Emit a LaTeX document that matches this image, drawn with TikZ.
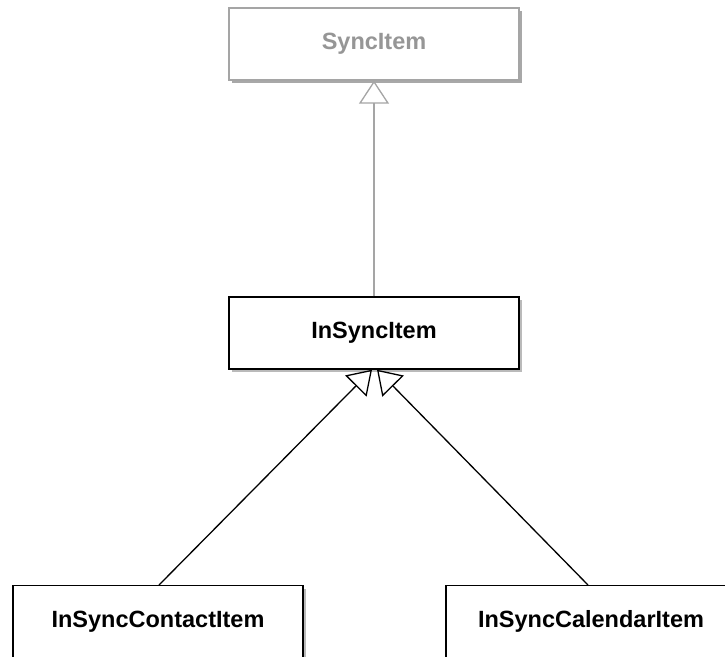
\documentclass[tikz,border=0pt]{standalone}
\usepackage{fontspec}
\setmainfont{Liberation Sans}
\usetikzlibrary{arrows.meta,shadows}
\definecolor{faded}{RGB}{165,165,165}
\definecolor{fadedtext}{RGB}{150,150,150}
\tikzset{
  classbox/.style={draw, line width=1.4pt, fill=white, rectangle,
    minimum width=290pt, minimum height=72pt, inner sep=0pt,
    font=\fontsize{23.5}{28}\selectfont\bfseries,
    drop shadow={shadow xshift=3pt, shadow yshift=-3pt, opacity=0.45, fill=black!60}},
  ghostbox/.style={classbox, draw=faded, text=fadedtext,
    drop shadow={shadow xshift=3pt, shadow yshift=-3pt, opacity=0.3, fill=black!50}},
  tallbox/.style={classbox, minimum height=0pt, text height=41.5pt, text depth=40pt, anchor=north},
  inherit/.style={line width=1.3pt,
    -{Triangle[open, length=23pt, width=30pt, line width=1.3pt]}}
}
\begin{document}
\begin{tikzpicture}[x=1pt, y=-1pt]
\useasboundingbox (0,0) rectangle (725,656);
\clip (0,0) rectangle (725,656);
\fill[white] (0,0) rectangle (725,656);

\node[ghostbox] (sync) at (374,44) {SyncItem};
\node[classbox] (insync) at (374,333) {InSyncItem};
\node[tallbox] (contact) at (158,585) {InSyncContactItem};
\node[tallbox] (calendar) at (591,585) {InSyncCalendarItem};

\coordinate (tipL) at ([xshift=-2pt]insync.south);
\coordinate (tipR) at ([xshift=3pt]insync.south);
\coordinate (fromL) at (159,585);
\coordinate (fromR) at (588,585);

\draw[inherit, draw=faded] (insync.north) -- (sync.south);
\draw[inherit] (fromL) -- (tipL);
\draw[inherit] (fromR) -- (tipR);
\end{tikzpicture}
\end{document}
